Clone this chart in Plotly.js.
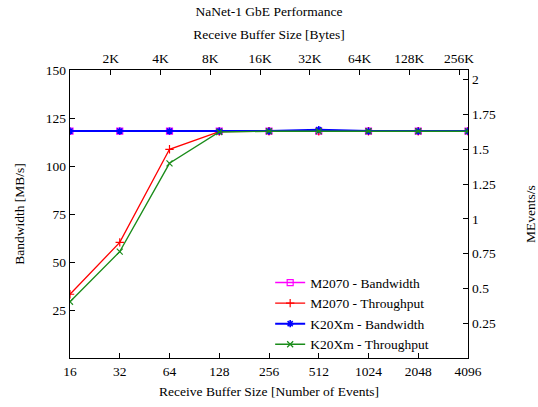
<!DOCTYPE html>
<html>
<head>
<meta charset="utf-8">
<script src="https://cdn.plot.ly/plotly-3.0.1.min.js"></script>
<style>html,body{margin:0;padding:0;background:#fff;}#chart{width:538px;height:407px;}</style>
</head>
<body>
<div id="chart"></div>
<script>
// Receive buffer size in number of events
const bufferEvents = [16, 32, 64, 128, 256, 512, 1024, 2048, 4096];
const bufferEventLabels = ["16", "32", "64", "128", "256", "512", "1024", "2048", "4096"];
// Top axis: receive buffer size in bytes
const bufferBytes = [2048, 4096, 8192, 16384, 32768, 65536, 131072, 262144];
const bufferByteLabels = ["2K", "4K", "8K", "16K", "32K", "64K", "128K", "256K"];
// Bytes per event (relates the two x axes and the two y axes)
const bytesPerEvent = 72.5;
// Series values [MB/s]
const m2070Bandwidth = [118.2, 118.2, 118.2, 118.2, 118.2, 118.2, 118.2, 118.2, 118.2];
const m2070Throughput = [33.2, 60.2, 108.7, 117.9, 118.1, 118.1, 118.1, 118.1, 118.1];
const k20Bandwidth = [118.2, 118.2, 118.2, 118.2, 118.2, 118.9, 118.2, 118.2, 118.2];
const k20Throughput = [29.3, 55.4, 101.4, 117.7, 118.1, 118.1, 118.1, 118.1, 118.1];
// Axis ticks
const leftTicks = [25, 50, 75, 100, 125, 150];
const rightTicks = [0.25, 0.5, 0.75, 1, 1.25, 1.5, 1.75, 2];
const rightTickLabels = ["0.25", "0.5", "0.75", "1", "1.25", "1.5", "1.75", "2"];
const yMax = 150;

const FONT = "'Liberation Serif', 'Times New Roman', serif";
const FS = 13.5;

const traces = [
  {x: bufferEvents, y: m2070Bandwidth, name: "M2070 - Bandwidth", mode: "lines+markers",
   line: {color: "#ff00ff", width: 1.5}, marker: {symbol: "square-open", size: 6, color: "#ff00ff", line: {width: 1.2}}},
  {x: bufferEvents, y: m2070Throughput, name: "M2070 - Throughput", mode: "lines+markers",
   line: {color: "#ff0000", width: 1.3}, marker: {symbol: "cross-thin-open", size: 6, color: "#ff0000", line: {width: 1.2}}},
  {x: bufferEvents, y: k20Bandwidth, name: "K20Xm - Bandwidth", mode: "lines+markers",
   line: {color: "#0000ff", width: 2}, marker: {symbol: "asterisk-open", size: 6, color: "#0000ff", line: {width: 1.6}}},
  {x: bufferEvents, y: k20Throughput, name: "K20Xm - Throughput", mode: "lines+markers",
   line: {color: "#1a8c1a", width: 1.3}, marker: {symbol: "x-thin-open", size: 6, color: "#1a8c1a", line: {width: 1.2}}},
  {x: [], y: [], xaxis: "x2", yaxis: "y2", showlegend: false, hoverinfo: "skip", mode: "lines"}
];

const axisCommon = {
  showgrid: false, zeroline: false, showline: true, linecolor: "#000", linewidth: 1.3,
  ticks: "inside", ticklen: 5, tickcolor: "#000", tickwidth: 1,
  tickfont: {family: FONT, size: FS, color: "#000"}
};

const layout = {
  width: 538, height: 407,
  margin: {l: 70, r: 70, t: 70, b: 49},
  paper_bgcolor: "#fff", plot_bgcolor: "#fff",
  font: {family: FONT, size: FS, color: "#000"},
  title: {text: "NaNet-1 GbE Performance", font: {family: FONT, size: FS, color: "#000"},
          x: 0.5, xanchor: "center", y: 1 - 11 / 407, yanchor: "middle", yref: "container"},
  xaxis: Object.assign({}, axisCommon, {
    type: "log", range: [Math.log10(bufferEvents[0]), Math.log10(bufferEvents[bufferEvents.length - 1])],
    tickvals: bufferEvents, ticktext: bufferEventLabels, mirror: true,
    title: {text: "Receive Buffer Size [Number of Events]", font: {family: FONT, size: FS}, standoff: 9}
  }),
  xaxis2: Object.assign({}, axisCommon, {
    type: "log", overlaying: "x", side: "top", anchor: "y",
    range: [Math.log10(bufferEvents[0] * bytesPerEvent), Math.log10(bufferEvents[bufferEvents.length - 1] * bytesPerEvent)],
    tickvals: bufferBytes, ticktext: bufferByteLabels,
    title: {text: "Receive Buffer Size [Bytes]", font: {family: FONT, size: FS}, standoff: 8}
  }),
  yaxis: Object.assign({}, axisCommon, {
    range: [0, yMax], tickvals: leftTicks, mirror: true,
    title: {text: "Bandwidth [MB/s]", font: {family: FONT, size: FS}, standoff: 18}
  }),
  yaxis2: Object.assign({}, axisCommon, {
    overlaying: "y", side: "right", anchor: "x",
    range: [0, yMax / bytesPerEvent], tickvals: rightTicks, ticktext: rightTickLabels,
    title: {text: "MEvents/s", font: {family: FONT, size: FS}, standoff: 30}
  }),
  showlegend: true,
  legend: {
    x: 0.915, xanchor: "right", y: -0.008, yanchor: "bottom",
    bgcolor: "rgba(255,255,255,0)", borderwidth: 0,
    font: {family: FONT, size: FS, color: "#000"}, tracegroupgap: 0
  }
};

Plotly.newPlot("chart", traces, layout, {displayModeBar: false, staticPlot: true});
</script>
</body>
</html>
